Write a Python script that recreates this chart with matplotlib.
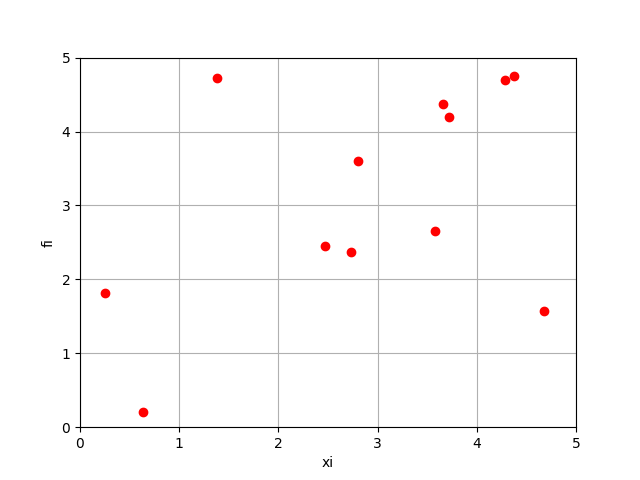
import numpy as np
import matplotlib
matplotlib.use('Agg')
import matplotlib.pyplot as plt

# points
xi = [0.25, 0.635, 1.38, 2.47, 2.73, 2.80, 3.58, 3.66, 3.72, 4.285, 4.375, 4.68]
fi = [1.815, 0.20, 4.73, 2.45, 2.37, 3.60, 2.655, 4.375, 4.20, 4.70, 4.755, 1.57]

fig, ax = plt.subplots(figsize=(6.4, 4.8), dpi=100)
ax.plot(xi, fi, 'ro')
ax.set_xlim(0, 5)
ax.set_ylim(0, 5)
ax.set_xlabel('xi')
ax.set_ylabel('fi')
ax.grid(True)
fig.savefig('out.png')
